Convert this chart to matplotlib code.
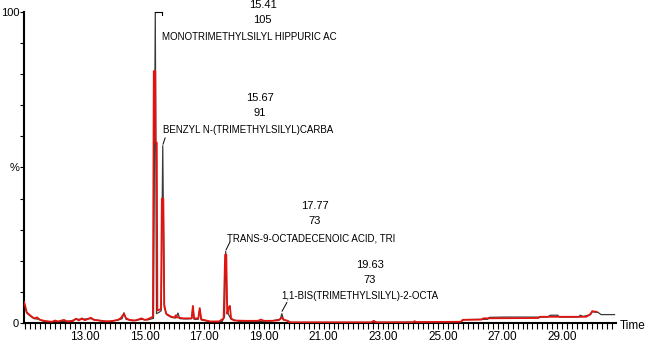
import matplotlib as mpl
from matplotlib import pyplot as plt
import numpy as np

plt.rcParams['font.family'] = ['Liberation Sans', 'DejaVu Sans']

# black trace (time [min], intensity [%])
blk_t = [10.96, 11.0, 11.05, 11.1, 11.2, 11.3, 11.45, 11.6, 11.8, 12.0, 12.2, 12.5, 12.7,
         12.9, 13.2, 13.5, 13.8, 14.1, 14.25, 14.31, 14.38, 14.6, 14.9, 15.1, 15.3, 15.36,
         15.40, 15.50, 15.56, 15.61, 15.66, 15.75, 15.9, 16.05, 16.12, 16.18, 16.4, 16.58,
         16.62, 16.66, 16.8, 16.85, 16.9, 17.2, 17.6, 17.68, 17.72, 17.76, 17.80, 17.9,
         18.2, 18.8, 19.2, 19.55, 19.60, 19.66, 19.85, 19.9, 21.0, 22.6, 22.7, 22.8, 24.0,
         25.6, 25.7, 26.5, 26.55, 27.0, 28.5, 28.6, 28.85, 28.9, 29.55, 29.6, 29.7, 29.9,
         30.0, 30.2, 30.3, 30.75]
blk_v = [6.5, 5.0, 3.2, 2.8, 2.0, 1.4, 1.2, 0.6, 0.4, 0.4, 0.5, 0.6, 1.2,
         1.2, 1.4, 0.7, 0.5, 0.9, 1.4, 3.3, 1.2, 0.7, 1.2, 1.0, 1.5, 100,
         3.0, 3.5, 4.0, 57, 5.0, 2.6, 1.8, 1.6, 3.2, 1.4, 1.3, 1.4,
         5.2, 1.2, 1.2, 4.4, 1.0, 0.4, 0.5, 2.0, 23, 8.0, 3.0, 1.2,
         0.5, 0.5, 0.6, 1.2, 3.0, 1.0, 0.5, 0.2, 0.2, 0.2, 0.6, 0.2, 0.3,
         0.3, 1.1, 1.2, 1.8, 1.9, 1.9, 2.5, 2.5, 1.9, 1.9, 2.5, 2.1, 2.6,
         3.6, 3.4, 2.7, 2.7]

# red trace
red_t = [10.96, 11.0, 11.05, 11.1, 11.2, 11.3, 11.4, 11.5, 11.7, 11.9, 12.0, 12.1, 12.3,
         12.4, 12.6, 12.7, 12.8, 12.9, 13.0, 13.2, 13.3, 13.5, 13.7, 13.9, 14.1, 14.2,
         14.31, 14.38, 14.5, 14.7, 14.9, 15.0, 15.1, 15.28, 15.31, 15.36, 15.37, 15.41,
         15.43, 15.55, 15.58, 15.63, 15.66, 15.72, 15.9, 16.0, 16.05, 16.1, 16.3, 16.58,
         16.62, 16.66, 16.8, 16.85, 16.9, 17.2, 17.5, 17.65, 17.70, 17.74, 17.77, 17.82,
         17.86, 17.90, 18.0, 18.4, 18.8, 18.9, 19.0, 19.3, 19.5, 19.6, 19.65, 19.8, 19.85,
         22.6, 22.68, 22.75, 24.0, 24.05, 24.1, 25.6, 25.66, 26.3, 26.35, 28.2, 28.25,
         29.8, 29.95, 30.0, 30.15]
red_v = [6.8, 5.5, 3.5, 3.0, 2.2, 1.5, 1.8, 1.0, 0.6, 0.4, 0.8, 0.5, 1.0,
         0.5, 0.6, 1.4, 0.8, 1.5, 0.9, 1.7, 1.0, 0.8, 0.5, 0.6, 1.0, 1.5,
         3.0, 1.5, 1.0, 0.8, 1.5, 1.0, 1.2, 2.0, 81, 81, 58, 58,
         4.0, 4.5, 40, 40, 6.0, 3.0, 2.0, 1.8, 2.5, 1.8, 1.5, 1.5,
         5.5, 1.5, 1.5, 4.8, 1.2, 0.5, 0.5, 1.5, 22, 22, 3.0, 5.0,
         5.5, 1.5, 0.8, 0.7, 0.7, 1.1, 0.7, 0.7, 0.9, 1.8, 1.1, 0.7, 0.2,
         0.2, 0.7, 0.2, 0.2, 0.6, 0.3, 0.4, 1.0, 1.1, 1.5, 1.6, 2.0,
         2.0, 2.8, 3.8, 3.6]

# peak labels: retention time, base peak, compound
pk_rt   = ['15.41', '15.67', '17.77', '19.63']
pk_mz   = ['105', '91', '73', '73']
pk_name = ['MONOTRIMETHYLSILYL HIPPURIC AC',
           'BENZYL N-(TRIMETHYLSILYL)CARBA',
           'TRANS-9-OCTADECENOIC ACID, TRI',
           '1,1-BIS(TRIMETHYLSILYL)-2-OCTA']
# label anchor (time, %) for number block and name
num_x  = [18.96, 18.86, 20.71, 22.55]
num_y  = [102.3, 72.3, 37.6, 18.6]
name_x = [15.58, 15.61, 17.76, 19.60]
name_y = [92.0, 62.1, 27.3, 8.7]

fig = plt.figure(figsize=(6.5, 3.45), dpi=100)
ax = fig.add_axes([24/650, 22/345, (616-24)/650, 311/345])

ax.plot(blk_t, blk_v, color='#3a3a3a', lw=0.9, zorder=2)
ax.plot(red_t, red_v, color='#e0150f', lw=1.3, zorder=3)

for i in range(len(pk_rt)):
    ax.text(num_x[i], num_y[i], pk_rt[i], ha='center', va='center', fontsize=8, clip_on=False)
    ax.text(num_x[i], num_y[i] - 4.9, pk_mz[i], ha='center', va='center', fontsize=8, clip_on=False)
    ax.text(name_x[i], name_y[i], pk_name[i], ha='left', va='center', fontsize=7, clip_on=False)

# leader marks
ax.plot([15.36, 15.57], [100, 100], color='k', lw=0.8, clip_on=False)
ax.plot([15.57, 15.57], [100, 99], color='k', lw=0.8, clip_on=False)
ax.plot([15.62, 15.69], [57.5, 59.5], color='k', lw=0.7)
ax.plot([17.73, 17.86], [23.5, 26.0], color='k', lw=0.7)
ax.plot([19.61, 19.77], [3.8, 6.6], color='k', lw=0.7)

ax.set_xlim(10.96, 30.8)
ax.set_ylim(0, 100)
for s in ['top', 'right']:
    ax.spines[s].set_visible(False)
ax.spines['left'].set_linewidth(1.5)
ax.spines['bottom'].set_linewidth(1.5)

ax.set_yticks(np.arange(0, 101, 10))
ax.set_yticklabels(['0', '', '', '', '', '%', '', '', '', '', '100'])
ax.set_xticks([13, 15, 17, 19, 21, 23, 25, 27, 29])
ax.set_xticklabels(['13.00', '15.00', '17.00', '19.00', '21.00', '23.00', '25.00', '27.00', '29.00'])
ax.set_xticks(np.arange(11.0, 30.75, 1/6), minor=True)
ax.tick_params(axis='x', direction='out', length=4, width=0.8, labelsize=8.5, pad=2)
ax.tick_params(axis='x', which='minor', direction='out', length=4, width=0.8)
ax.tick_params(axis='y', direction='out', length=3, width=0.8, labelsize=8, pad=0.5)

fig.text(620/650, 1 - 326/345, 'Time', ha='left', va='center', fontsize=8.5)

fig.savefig('out.png', dpi=100)
